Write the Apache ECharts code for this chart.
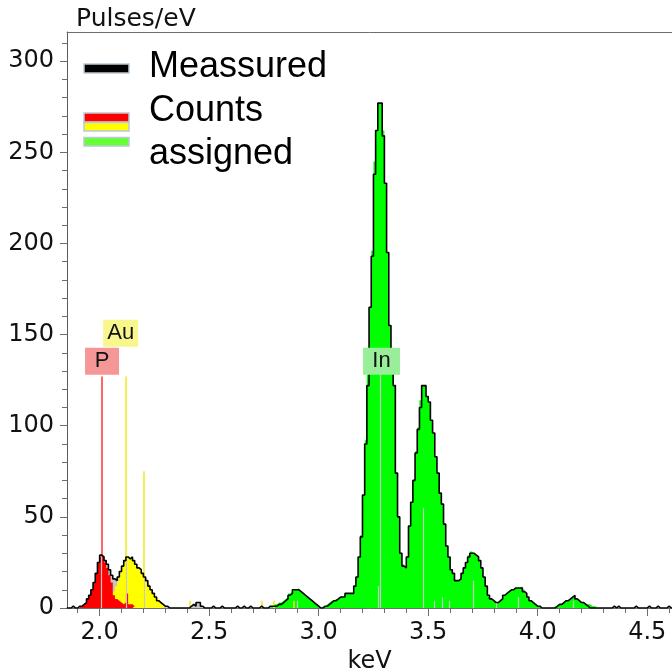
<!DOCTYPE html>
<html>
<head>
<meta charset="utf-8">
<title>EDX spectrum</title>
<script src="https://cdn.jsdelivr.net/npm/echarts@6.0.0/dist/echarts.min.js"></script>
<style>
  html, body { margin: 0; padding: 0; background: #fff; }
  #chart { width: 672px; height: 671px; }
</style>
</head>
<body>
<div id="chart"></div>
<script>
// spectrum channels are 10 eV wide
const binWidth = 0.01;

// measured pulses/eV, channels from 1.85 keV
const measuredStart = 1.85;
const measured = [
  0, 0, 1, 0, 0, 1, 1, 2, 3, 5,
  7, 10, 14, 19, 25, 29, 28, 26, 24, 21,
  18, 16, 15, 17, 20, 23, 26, 28, 27, 28,
  26, 24, 22, 21, 19, 17, 15, 12, 10, 8,
  6, 4, 3, 2, 1, 1, 0, 0, 0, 0,
  0, 0, 0, 0, 0, 0, 1, 2, 1, 3,
  3, 1, 0, 0, 0, 0, 1, 0, 0, 0,
  1, 0, 0, 0, 0, 0, 0, 1, 0, 0,
  1, 0, 0, 1, 0, 0, 0, 0, 1, 0,
  0, 0, 1, 1, 1, 1, 2, 2, 3, 4,
  5, 7, 8, 10, 10, 10, 9, 8, 7, 6,
  5, 4, 3, 2, 1, 0, 0, 1, 1, 2,
  3, 4, 4, 5, 6, 6, 6, 8, 8, 8,
  8, 12, 17, 28, 39, 62, 90, 122, 165, 193,
  238, 262, 277, 277, 259, 233, 195, 155, 136, 122,
  74, 50, 30, 23, 22, 28, 45, 58, 70, 85,
  98, 110, 122, 122, 116, 113, 103, 96, 83, 74,
  63, 57, 46, 34, 28, 21, 19, 15, 15, 16,
  19, 22, 25, 28, 30, 30, 29, 28, 26, 22,
  17, 12, 7, 5, 4, 3, 3, 4, 5, 7,
  8, 9, 10, 10, 11, 11, 11, 11, 9, 8,
  6, 4, 3, 2, 1, 1, 0, 0, 0, 0,
  0, 0, 0, 1, 2, 2, 3, 4, 4, 5,
  6, 7, 5, 4, 3, 3, 2, 1, 0, 0,
  0, 0, 0, 0, 0, 0, 0, 0, 0, 1,
  0, 1, 0, 0, 0, 0, 0, 0, 0, 1,
  0, 0, 0, 0, 0, 1, 0, 0, 0, 1,
  0, 0, 0, 0, 1, 0, 0
];

// counts assigned to each element
const pStart = 1.91;
const pCounts = [
  1, 2, 3, 5, 7, 10, 14, 19, 25, 28,
  28, 25, 22, 18, 14, 7, 5, 4, 3, 2,
  3, 8, 2, 2, 1
];
const auStart = 1.98;
const auCounts = [
  1, 1, 1, 2, 2, 3, 4, 6, 9, 12,
  15, 19, 23, 26, 28, 27, 28, 26, 24, 22,
  21, 19, 17, 15, 13, 10, 8, 6, 5, 3,
  2, 1
];
const inStart = 2.78;
const inCounts = [
  1, 2, 2, 3, 3, 4, 5, 6, 8, 9,
  10, 10, 11, 9, 8, 7, 6, 5, 4, 3,
  2, 1, 0, 1, 1, 2, 3, 4, 4, 5,
  5, 6, 6, 6, 8, 8, 8, 8, 12, 17,
  28, 40, 62, 92, 128, 165, 196, 245, 262, 277,
  277, 262, 233, 195, 155, 136, 122, 74, 50, 30,
  24, 22, 28, 45, 58, 70, 86, 99, 114, 122,
  122, 116, 113, 103, 96, 83, 74, 63, 57, 46,
  34, 28, 21, 19, 15, 15, 16, 19, 22, 25,
  29, 31, 30, 29, 28, 26, 22, 17, 12, 7,
  5, 4, 3, 3, 4, 5, 7, 8, 9, 10,
  10, 11, 11, 11, 12, 10, 8, 6, 4, 3,
  2, 1, 1, 0, 0, 0, 0, 0, 0, 1,
  1, 2, 2, 3, 4, 4, 5, 6, 7, 5,
  4, 3, 3, 2, 2, 2, 1, 1, 1
];

// element line markers: energy, top of marker, part of it inside the filled peak
const pLineE = [2.009];
const pLineTop = [127];
const pLineInside = [28];
const auLineE = [2.12, 2.203];
const auLineTop = [127, 75];
const auLineInside = [27, 17];
const auTraceE = [2.412, 2.74, 2.797, 2.884];
const auTraceTop = [4, 4, 4, 4];
const inLineE = [3.28, 2.9, 3.272, 3.478, 3.528, 3.566, 3.596, 3.706, 3.81, 3.91, 4.16];
const inLineTop = [128, 4, 12, 55, 4, 6, 4, 15, 3, 6, 4];

// element tags
const tagNames = ['P', 'Au', 'In'];
const tagE = [2.011, 2.096, 3.287];
const tagV = [135.4, 150.7, 135.4];

// axes
const xMin = 1.851;
const xMax = 4.613;
const xMajor = [2.0, 2.5, 3.0, 3.5, 4.0, 4.5];
const xMinor = [1.9, 2.1, 2.2, 2.3, 2.4, 2.6, 2.7, 2.8, 2.9, 3.1, 3.2, 3.3, 3.4,
  3.6, 3.7, 3.8, 3.9, 4.1, 4.2, 4.3, 4.4, 4.6];
const yMax = 316;
const yMajor = [0, 50, 100, 150, 200, 250, 300];
const yMinor = [10, 20, 30, 40, 60, 70, 80, 90, 110, 120, 130, 140, 160, 170, 180, 190,
  210, 220, 230, 240, 260, 270, 280, 290, 310];

const axisColor = '#6e6e6e';
const tickFont = { fontSize: 24, fontFamily: 'DejaVu Sans', color: '#111' };
const tagStyle = {
  P: { bg: '#f59797', w: 34 },
  Au: { bg: '#f7f78e', w: 35 },
  In: { bg: '#99ee99', w: 37 }
};

function steps(start, vals) {
  const pts = vals.map((v, i) => [+(start + i * binWidth).toFixed(3), v]);
  pts.push([+(start + vals.length * binWidth).toFixed(3), 0]);
  return pts;
}

function markerPairs(es, tops, insides, color) {
  const out = [];
  es.forEach((e, i) => {
    const inside = insides ? insides[i] : tops[i];
    out.push([{ coord: [e, 0], lineStyle: { color: '#c8c8c8', width: 1.2 } }, { coord: [e, inside] }]);
    if (insides) {
      out.push([{ coord: [e, inside], lineStyle: { color: color, width: 1.6 } }, { coord: [e, tops[i]] }]);
    }
  });
  return out;
}

function traces(es, tops, color) {
  return es.map((e, i) => [{ coord: [e, 0], lineStyle: { color: color, width: 1.6 } }, { coord: [e, tops[i]] }]);
}

function stepArea(name, start, vals, color, z) {
  return {
    name: name,
    type: 'line',
    step: 'end',
    data: steps(start, vals),
    showSymbol: false,
    symbol: 'none',
    lineStyle: { width: 0 },
    areaStyle: { color: color, opacity: 1 },
    z: z,
    silent: true
  };
}

const chart = echarts.init(document.getElementById('chart'));

const redSeries = stepArea('P', pStart, pCounts, '#ff0000', 4);
redSeries.markLine = {
  silent: true,
  z: 5,
  symbol: ['none', 'none'],
  label: { show: false },
  lineStyle: { type: 'solid' },
  animation: false,
  data: [].concat(
    markerPairs(pLineE, pLineTop, pLineInside, '#ff4040'),
    markerPairs(auLineE, auLineTop, auLineInside, '#eeee22'),
    traces(auTraceE, auTraceTop, '#eeee22'),
    markerPairs(inLineE, inLineTop, null, '#c8c8c8')
  )
};

const option = {
  animation: false,
  grid: { left: 67, right: 0, top: 32, bottom: 63, containLabel: false, outerBoundsMode: 'none' },
  xAxis: [
    {
      type: 'value', position: 'bottom', min: xMin, max: xMax, z: 10,
      axisLine: { show: true, onZero: false, lineStyle: { color: axisColor } },
      axisTick: { show: true, length: 8, customValues: xMajor, lineStyle: { color: axisColor } },
      axisLabel: Object.assign({ customValues: xMajor, margin: 13, formatter: v => v.toFixed(1) }, tickFont),
      splitLine: { show: false },
      name: 'keV', nameLocation: 'middle', nameGap: 39,
      nameTextStyle: tickFont
    },
    {
      type: 'value', position: 'bottom', min: xMin, max: xMax, z: 10,
      axisLine: { show: false },
      axisTick: { show: true, length: 5, customValues: xMinor, lineStyle: { color: axisColor } },
      axisLabel: { show: false },
      splitLine: { show: false }
    },
    {
      type: 'value', position: 'top', min: xMin, max: xMax, z: 10,
      axisLine: { show: true, onZero: false, lineStyle: { color: axisColor } },
      axisTick: { show: false },
      axisLabel: { show: false },
      splitLine: { show: false }
    }
  ],
  yAxis: [
    {
      type: 'value', position: 'left', min: 0, max: yMax, z: 10,
      axisLine: { show: true, onZero: false, lineStyle: { color: '#5a5a5a' } },
      axisTick: { show: true, length: 7, customValues: yMajor, lineStyle: { color: axisColor } },
      axisLabel: Object.assign({ customValues: yMajor, margin: 13 }, tickFont),
      splitLine: { show: false }
    },
    {
      type: 'value', position: 'left', min: 0, max: yMax, z: 10,
      axisLine: { show: false },
      axisTick: { show: true, length: 5, customValues: yMinor, lineStyle: { color: axisColor } },
      axisLabel: { show: false },
      splitLine: { show: false }
    }
  ],
  series: [
    // unassigned part of the measured spectrum shows through as grey
    stepArea('measured fill', measuredStart, measured, '#c4c4c4', 1),
    stepArea('In', inStart, inCounts, '#00ff00', 2),
    stepArea('Au', auStart, auCounts, '#ffff00', 3),
    redSeries,
    {
      name: 'Meassured',
      type: 'line',
      step: 'end',
      data: steps(measuredStart, measured),
      showSymbol: false,
      symbol: 'none',
      lineStyle: { color: '#000', width: 1.6 },
      z: 10,
      silent: true,
      markPoint: {
        silent: true,
        z: 12,
        animation: false,
        data: tagNames.map((n, i) => ({
          coord: [tagE[i], tagV[i]],
          symbol: 'rect',
          symbolSize: [tagStyle[n].w, 27],
          symbolOffset: [0, 0],
          itemStyle: { color: tagStyle[n].bg, opacity: 1 },
          label: {
            show: true,
            position: 'inside',
            formatter: n,
            fontSize: 22,
            fontFamily: 'Liberation Sans',
            color: '#111'
          }
        }))
      }
    }
  ],
  graphic: [
    { type: 'text', x: 76, y: 19, style: { text: 'Pulses/eV', font: '25px "DejaVu Sans"', fill: '#111', verticalAlign: 'middle' } },
    // legend
    { type: 'rect', shape: { x: 84, y: 64, width: 45, height: 9 }, style: { fill: '#000', stroke: '#b9cad6', lineWidth: 1.5 } },
    { type: 'rect', shape: { x: 84, y: 113, width: 45, height: 9 }, style: { fill: '#ff0000', stroke: '#b9cad6', lineWidth: 1.5 } },
    { type: 'rect', shape: { x: 84, y: 122.5, width: 45, height: 8.5 }, style: { fill: '#ffff00', stroke: '#b9cad6', lineWidth: 1.5 } },
    { type: 'rect', shape: { x: 84, y: 137.5, width: 45, height: 8.5 }, style: { fill: '#66ff33', stroke: '#b9cad6', lineWidth: 1.5 } },
    { type: 'text', x: 149, y: 67, style: { text: 'Meassured', font: '36px "Liberation Sans"', fill: '#000', verticalAlign: 'middle' } },
    { type: 'text', x: 149, y: 111, style: { text: 'Counts', font: '36px "Liberation Sans"', fill: '#000', verticalAlign: 'middle' } },
    { type: 'text', x: 149, y: 154, style: { text: 'assigned', font: '36px "Liberation Sans"', fill: '#000', verticalAlign: 'middle' } }
  ]
};

chart.setOption(option);
</script>
</body>
</html>
